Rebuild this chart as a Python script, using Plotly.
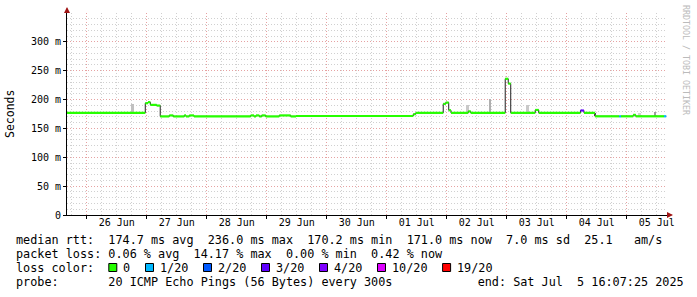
import pandas as pd
import plotly.graph_objects as go

# ---------------- data ----------------
END_TIME = pd.Timestamp("2025-07-05 16:07:25")
START_TIME = END_TIME - pd.Timedelta(days=10)

# median RTT step changes (start time of each step, value in ms, loss bucket)
step_times = [
    "2025-06-25 16:07", "2025-06-26 23:26", "2025-06-27 00:31", "2025-06-27 01:27",
    "2025-06-27 03:59", "2025-06-27 05:25", "2025-06-27 09:02", "2025-06-27 10:38",
    "2025-06-27 15:02", "2025-06-27 15:43", "2025-06-27 17:02", "2025-06-27 18:55",
    "2025-06-28 17:36", "2025-06-28 18:55", "2025-06-28 19:43", "2025-06-28 21:02",
    "2025-06-28 22:00", "2025-06-28 23:36", "2025-06-29 05:02", "2025-06-29 09:36",
    "2025-06-29 11:43", "2025-07-01 10:37", "2025-07-01 11:37", "2025-07-01 22:37",
    "2025-07-01 23:37", "2025-07-02 00:49", "2025-07-02 01:43", "2025-07-02 08:37",
    "2025-07-02 09:37", "2025-07-02 23:25", "2025-07-03 00:37", "2025-07-03 01:37",
    "2025-07-03 11:25", "2025-07-03 12:49", "2025-07-04 05:31", "2025-07-04 06:55",
    "2025-07-04 11:19", "2025-07-04 21:01", "2025-07-04 21:43", "2025-07-05 02:37",
    "2025-07-05 03:37", "2025-07-05 14:55",
]
step_ms = [
    177.0, 193.7, 195.5, 190.8,
    189.6, 170.8, 172.5, 170.8,
    172.5, 170.8, 172.5, 170.8,
    172.5, 170.8, 172.5, 170.8,
    172.5, 170.8, 172.5, 170.8,
    171.5, 174.6, 177.0, 192.5,
    194.8, 181.5, 177.0, 179.5,
    177.0, 236.0, 227.7, 177.0,
    182.0, 177.0, 181.0, 177.0,
    171.0, 171.0, 171.0, 173.5,
    171.0, 171.0,
]
step_loss = [
    0, 0, 0, 0,
    0, 0, 0, 0,
    0, 0, 0, 0,
    0, 0, 0, 0,
    0, 0, 0, 0,
    0, 0, 0, 0,
    0, 0, 0, 0,
    0, 0, 0, 0,
    0, 0, 3, 0,
    0, 1, 0, 0,
    0, 1,
]
line_end = "2025-07-05 15:50"

# smoke (ping spread) bars: centre time, low and high in ms, relative density
smoke_times = ["2025-06-26 18:14", "2025-07-02 08:19", "2025-07-02 17:14",
               "2025-07-03 08:14", "2025-07-04 11:19", "2025-07-05 05:02",
               "2025-07-05 11:19"]
smoke_low_ms = [178.0, 177.0, 177.0, 177.0, 171.0, 171.0, 171.0]
smoke_high_ms = [192.5, 190.0, 201.0, 191.0, 177.0, 176.0, 178.0]
smoke_density = [0.25, 0.2, 0.35, 0.2, 0.7, 0.15, 0.45]

loss_labels = ["0", "1/20", "2/20", "3/20", "4/20", "10/20", "19/20"]

y_tick_ms = [0, 50, 100, 150, 200, 250, 300]

rtt_avg, rtt_max, rtt_min, rtt_now, rtt_sd, rtt_ams = 174.7, 236.0, 170.2, 171.0, 7.0, 25.1
loss_avg, loss_max, loss_min, loss_now = 0.06, 14.17, 0.00, 0.42
probe_count, probe_bytes, probe_step = 20, 56, 300

# ---------------- style ----------------
LOSS_COLORS = ["#26ff00", "#00b8ff", "#0059ff", "#5e00ff", "#7e00ff", "#dd00ff", "#ff0000"]
MONO = "DejaVu Sans Mono"
W_PX, H_PX = 697, 297
L, T, PW, PH = 67, 13, 600, 202
MAJOR_GRID = "rgba(235,150,150,0.8)"
MINOR_GRID = "rgba(200,200,200,0.85)"
GRID_DASH = "1px,2px"


def pxx(x):
    return (x - L) / PW


def pxy(y):
    return (T + PH - y) / PH


fig = go.Figure()

# smoke
smoke_colors = []
for d in smoke_density:
    g = int(235 - 170 * d)
    smoke_colors.append(f"rgb({g},{g},{g})")
fig.add_trace(go.Bar(
    x=pd.to_datetime(smoke_times),
    base=[v / 1000 for v in smoke_low_ms],
    y=[(h - l) / 1000 for h, l in zip(smoke_high_ms, smoke_low_ms)],
    width=[60 * 60 * 1000] * len(smoke_times),
    marker=dict(color=smoke_colors, line=dict(width=0)),
    showlegend=False, hoverinfo="skip",
))

# thin dark median step line
all_t = pd.to_datetime(step_times + [line_end])
all_v = [v / 1000 for v in step_ms] + [step_ms[-1] / 1000]
fig.add_trace(go.Scatter(
    x=all_t, y=all_v, mode="lines", line=dict(color="#202020", width=1, shape="hv"),
    showlegend=False, hoverinfo="skip",
))

# coloured horizontal segments by loss bucket
for k, col in enumerate(LOSS_COLORS):
    xs, ys = [], []
    for i in range(len(step_times)):
        if step_loss[i] != k:
            continue
        xs += [all_t[i], all_t[i + 1], None]
        ys += [step_ms[i] / 1000, step_ms[i] / 1000, None]
    if xs:
        fig.add_trace(go.Scatter(
            x=xs, y=ys, mode="lines", line=dict(color=col, width=2.2),
            showlegend=False, hoverinfo="skip",
        ))

# axis labels
midnights = pd.date_range("2025-06-26", "2025-07-05", freq="D")
noons = midnights + pd.Timedelta(hours=12)
fig.add_trace(go.Scatter(x=noons, y=[None] * len(noons), xaxis="x2",
                         showlegend=False, hoverinfo="skip"))

fig.update_layout(
    width=W_PX, height=H_PX, autosize=False,
    margin=dict(l=L, r=W_PX - L - PW, t=T, b=H_PX - T - PH, pad=0),
    paper_bgcolor="white", plot_bgcolor="white",
    showlegend=False, bargap=0,
    font=dict(family=MONO, color="black"),
    xaxis=dict(
        type="date", range=[START_TIME, END_TIME],
        tickmode="array", tickvals=midnights, ticktext=[""] * len(midnights),
        ticks="outside", ticklen=3, tickcolor="black",
        showgrid=True, gridcolor=MAJOR_GRID, griddash=GRID_DASH, gridwidth=1,
        minor=dict(dtick=6 * 3600 * 1000, tick0="2025-06-26", showgrid=True,
                   gridcolor=MINOR_GRID, griddash=GRID_DASH, ticks=""),
        showline=True, linecolor="black", linewidth=1, zeroline=False,
        fixedrange=True,
    ),
    xaxis2=dict(
        type="date", range=[START_TIME, END_TIME], overlaying="x", anchor="y",
        side="bottom", tickmode="array", tickvals=noons,
        ticktext=[d.strftime("%d %b") for d in midnights],
        ticks="", showgrid=False, showline=False, zeroline=False,
        tickfont=dict(family=MONO, size=10, color="black"),
    ),
    yaxis=dict(
        range=[0, 0.35],
        tickmode="array", tickvals=[v / 1000 for v in y_tick_ms],
        ticktext=["0" if v == 0 else f"{v} m" for v in y_tick_ms],
        ticks="outside", ticklen=3, tickcolor="black",
        tickfont=dict(family=MONO, size=10, color="black"),
        showgrid=True, gridcolor=MAJOR_GRID, griddash=GRID_DASH, gridwidth=1,
        minor=dict(dtick=0.01, tick0=0, showgrid=True, gridcolor=MINOR_GRID,
                   griddash=GRID_DASH, ticks=""),
        showline=True, linecolor="black", linewidth=1, zeroline=False,
    ),
)

NB = "\u00a0"


def mono(s):
    return s.replace(" ", NB)


ann = []
FS = 11.8
CW = 7.1
row_y = [240, 254.3, 268.3, 282.4]
rows = [
    f"median rtt:  {rtt_avg:.1f} ms avg  {rtt_max:.1f} ms max  {rtt_min:.1f} ms min  "
    f"{rtt_now:.1f} ms now  {rtt_sd:.1f} ms sd  {rtt_ams:.1f}   am/s",
    f"packet loss: {loss_avg:.2f} % avg  {loss_max:.2f} % max  {loss_min:.2f} % min  "
    f"{loss_now:.2f} % now",
    "loss color:",
    f"probe:       {probe_count} ICMP Echo Pings ({probe_bytes} Bytes) every {probe_step}s"
    + " " * 12 + END_TIME.strftime("end: %a %b ") + f"{END_TIME.day:2d}"
    + END_TIME.strftime(" %H:%M:%S %Y"),
]
for txt, yy in zip(rows, row_y):
    ann.append(dict(text=mono(txt), xref="paper", yref="paper", x=pxx(16), y=pxy(yy),
                    xanchor="left", yanchor="middle", showarrow=False,
                    borderpad=0, borderwidth=0,
                    font=dict(family=MONO, size=FS, color="black")))

# loss colour swatches
shapes = []
sx = 16 + 13 * CW
for lab, col in zip(loss_labels, LOSS_COLORS):
    shapes.append(dict(type="rect", xref="paper", yref="paper",
                       x0=pxx(sx + 0.5), x1=pxx(sx + 8.5), y0=pxy(271.5), y1=pxy(263.5),
                       line=dict(color="black", width=1), fillcolor=col, layer="above"))
    ann.append(dict(text=mono(lab), xref="paper", yref="paper", x=pxx(sx + 14.6),
                    y=pxy(row_y[2]), xanchor="left", yanchor="middle", showarrow=False,
                    borderpad=0, borderwidth=0,
                    font=dict(family=MONO, size=FS, color="black")))
    sx += 14.6 + len(lab) * CW + 15.0

# y-axis title
ann.append(dict(text="Seconds", xref="paper", yref="paper", x=pxx(10), y=pxy(114),
                xanchor="center", yanchor="middle", textangle=-90, showarrow=False,
                font=dict(family=MONO, size=11.5, color="black")))
# watermark
ann.append(dict(text=mono("RRDTOOL / TOBI OETIKER"), xref="paper", yref="paper",
                x=pxx(686), y=pxy(60), xanchor="center", yanchor="middle",
                textangle=90, showarrow=False,
                font=dict(family=MONO, size=8.3, color="#bbbbbb")))
# axis arrows
ann.append(dict(text="", xref="paper", yref="paper", x=0, y=pxy(7), ax=0, ay=7,
                showarrow=True, arrowhead=2, arrowsize=1, arrowwidth=1.2,
                arrowcolor="#a01515"))
ann.append(dict(text="", xref="paper", yref="paper", x=pxx(673), y=0, ax=-7, ay=0,
                showarrow=True, arrowhead=2, arrowsize=1, arrowwidth=1.2,
                arrowcolor="#a01515"))

fig.update_layout(annotations=ann, shapes=shapes)
fig.write_html("out.html")
